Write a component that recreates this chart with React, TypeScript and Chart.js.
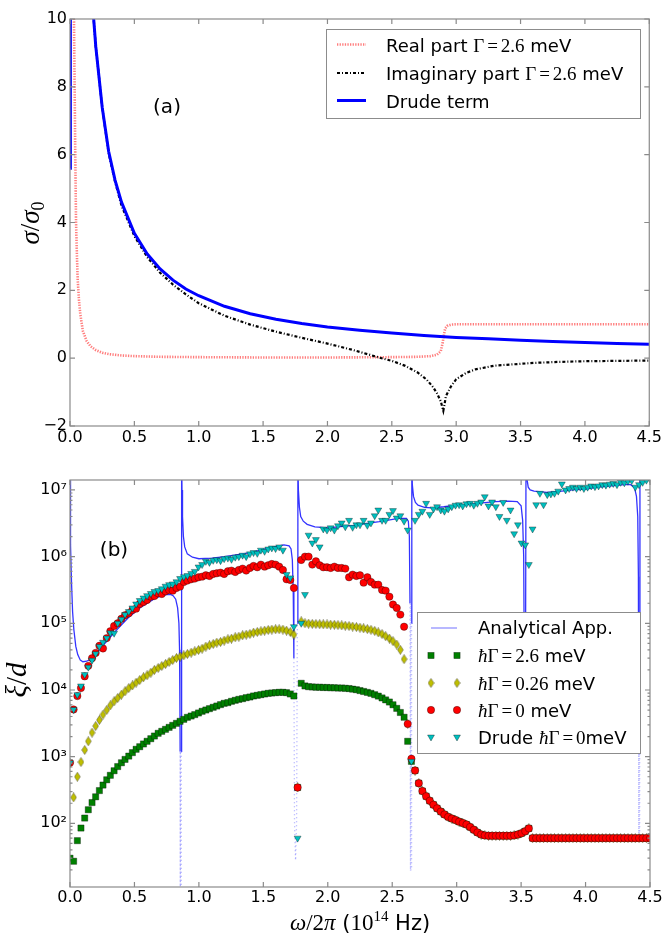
import React, { useEffect, useRef } from 'react';
import { Chart, registerables } from 'chart.js';

Chart.register(...registerables);

// ---------------- panel (a) data ----------------
const xTickValues = [0, 0.5, 1, 1.5, 2, 2.5, 3, 3.5, 4, 4.5];
const yTicksA = [-2, 0, 2, 4, 6, 8, 10];

const realFreq = [0.028, 0.031, 0.036, 0.041, 0.047, 0.054, 0.06, 0.07, 0.08, 0.1, 0.13, 0.16, 0.2, 0.25, 0.3, 0.4, 0.5, 0.7, 1.0, 1.5, 2.0, 2.5, 2.7, 2.8, 2.85, 2.88, 2.895, 2.905, 2.915, 2.93, 2.96, 3.0, 3.5, 4.0, 4.5];
const realPart = [12, 10, 8, 6, 4, 3, 2.3, 1.7, 1.3, 0.8, 0.5, 0.35, 0.24, 0.16, 0.12, 0.08, 0.06, 0.04, 0.03, 0.02, 0.02, 0.03, 0.04, 0.06, 0.1, 0.2, 0.45, 0.7, 0.88, 0.95, 0.99, 1, 1, 1, 1];

const imagFreq = [0.15, 0.18, 0.2, 0.25, 0.3, 0.35, 0.4, 0.5, 0.6, 0.7, 0.8, 0.9, 1.0, 1.2, 1.4, 1.6, 1.8, 2.0, 2.2, 2.4, 2.5, 2.6, 2.7, 2.77, 2.82, 2.85, 2.88, 2.9, 2.91, 2.92, 2.96, 3.0, 3.08, 3.15, 3.3, 3.6, 3.8, 4.0, 4.25, 4.5];
const imagPart = [12.3, 10.2, 9.2, 7.4, 6.05, 5.2, 4.5, 3.6, 2.98, 2.52, 2.17, 1.88, 1.62, 1.25, 0.99, 0.78, 0.6, 0.43, 0.24, 0.02, -0.08, -0.22, -0.42, -0.63, -0.85, -1.03, -1.27, -1.55, -1.35, -1.12, -0.83, -0.62, -0.43, -0.33, -0.22, -0.14, -0.11, -0.09, -0.08, -0.07];

const drudeFreq = [0.002, 0.003, 0.1, 0.15, 0.18, 0.2, 0.25, 0.3, 0.35, 0.4, 0.5, 0.6, 0.7, 0.8, 0.9, 1.0, 1.2, 1.4, 1.6, 1.8, 2.0, 2.25, 2.5, 2.75, 3.0, 3.25, 3.5, 3.75, 4.0, 4.25, 4.5];
const drudeTerm = [5.6, 14, null, 12.3, 10.2, 9.2, 7.4, 6.1, 5.25, 4.6, 3.68, 3.07, 2.63, 2.3, 2.04, 1.84, 1.53, 1.31, 1.15, 1.02, 0.92, 0.82, 0.74, 0.67, 0.61, 0.57, 0.53, 0.49, 0.46, 0.43, 0.41];

// ---------------- panel (b) data ----------------
const yTicksB = [1e2, 1e3, 1e4, 1e5, 1e6, 1e7];
const yTickLabelsB = ['10²', '10³', '10⁴', '10⁵', '10⁶', '10⁷'];

const freq = [0, 0.028, 0.057, 0.085, 0.114, 0.142, 0.171, 0.199, 0.228, 0.256, 0.285, 0.313, 0.342, 0.370, 0.399, 0.427, 0.456, 0.484, 0.513, 0.541, 0.570, 0.598, 0.627, 0.655, 0.684, 0.712, 0.741, 0.769, 0.797, 0.826, 0.854, 0.883, 0.911, 0.940, 0.968, 0.997, 1.025, 1.054, 1.082, 1.111, 1.139, 1.168, 1.196, 1.225, 1.253, 1.282, 1.310, 1.339, 1.367, 1.396, 1.424, 1.453, 1.481, 1.510, 1.538, 1.566, 1.595, 1.623, 1.652, 1.680, 1.709, 1.737, 1.766, 1.794, 1.823, 1.851, 1.880, 1.908, 1.937, 1.965, 1.994, 2.022, 2.051, 2.079, 2.108, 2.136, 2.165, 2.193, 2.222, 2.250, 2.278, 2.307, 2.335, 2.364, 2.392, 2.421, 2.449, 2.478, 2.506, 2.535, 2.563, 2.592, 2.620, 2.649, 2.677, 2.706, 2.734, 2.763, 2.791, 2.820, 2.848, 2.877, 2.905, 2.934, 2.962, 2.991, 3.019, 3.047, 3.076, 3.104, 3.133, 3.161, 3.190, 3.218, 3.247, 3.275, 3.304, 3.332, 3.361, 3.389, 3.418, 3.446, 3.475, 3.503, 3.532, 3.560, 3.589, 3.617, 3.646, 3.674, 3.703, 3.731, 3.759, 3.788, 3.816, 3.845, 3.873, 3.902, 3.930, 3.959, 3.987, 4.016, 4.044, 4.073, 4.101, 4.130, 4.158, 4.187, 4.215, 4.244, 4.272, 4.301, 4.329, 4.358, 4.386, 4.415, 4.443, 4.472, 4.500];

// band 1 (0 .. 1.74)
const xi26Band1 = [30, 27, 55, 85, 120, 160, 205, 250, 310, 375, 450, 525, 615, 710, 810, 910, 1020, 1150, 1290, 1410, 1550, 1700, 1860, 2040, 2240, 2400, 2570, 2750, 2950, 3160, 3390, 3630, 3890, 4070, 4270, 4520, 4790, 5010, 5250, 5500, 5750, 6030, 6310, 6460, 6760, 7000, 7240, 7410, 7670, 7850, 8130, 8320, 8510, 8710, 8910, 9020, 9120, 9230, 9230, 9120, 8710, 8130];
const xi026Band1 = [800, 245, 500, 830, 1260, 1700, 2290, 2880, 3550, 4270, 5010, 5890, 6760, 7590, 8510, 9550, 10700, 11700, 12900, 14100, 15500, 16600, 18200, 20000, 21400, 22900, 24500, 26300, 28200, 30200, 31600, 33100, 34700, 36300, 38000, 39800, 41700, 44700, 46800, 49000, 51300, 52500, 55000, 57500, 58900, 61700, 63100, 66100, 67600, 69200, 72400, 74100, 75900, 77600, 79400, 80400, 81300, 81300, 80400, 77600, 74100, 67600];
const xi0Band1 = [810, 5100, 8100, 10700, 16000, 23000, 30000, 36000, 46000, 42000, 60000, 76000, 91000, 100000, 117000, 132000, 141000, 158000, 166000, 195000, 209000, 224000, 251000, 257000, 282000, 275000, 302000, 316000, 309000, 339000, 355000, 417000, 437000, 457000, 468000, 490000, 501000, 525000, 513000, 550000, 562000, 575000, 550000, 603000, 617000, 589000, 631000, 661000, 617000, 676000, 724000, 692000, 759000, 708000, 741000, 776000, 759000, 708000, 631000, 457000, 447000, 339000];
const xiDrudeBand1 = [810, 5100, 8500, 11500, 17000, 22000, 28000, 35000, 45000, 52000, 60000, 72000, 71000, 100000, 115000, 135000, 150000, 170000, 195000, 220000, 240000, 260000, 280000, 300000, 310000, 330000, 360000, 380000, 390000, 420000, 470000, 500000, 520000, 560000, 600000, 700000, 760000, 850000, 820000, 880000, 900000, 870000, 930000, 950000, 910000, 980000, 1000000, 1050000, 1000000, 1100000, 1150000, 1120000, 1250000, 1200000, 1300000, 1350000, 1320000, 1400000, 1250000, 540000, 480000, 89000];

// band 2 (1.77 .. 2.65), first value = point at the band edge
const xi26Band2 = [345, 12600, 11500, 11200, 11100, 11000, 11000, 10900, 10900, 10800, 10800, 10700, 10700, 10600, 10500, 10300, 10100, 9800, 9500, 9200, 8900, 8500, 8100, 7600, 7100, 6600, 6000, 5300, 4600, 3900, 1700, 850];
const xi026Band2 = [345, 107000, 100000, 98900, 98000, 97500, 97000, 96500, 96000, 95500, 95000, 94000, 93000, 92000, 91000, 89500, 88000, 86000, 84000, 82000, 80000, 77000, 73000, 69000, 64000, 59000, 54000, 48000, 40000, 29000, 3100, 900];
const xi0Band2 = [345, 891000, 1000000, 1000000, 759000, 851000, 741000, 692000, 692000, 676000, 708000, 676000, 676000, 661000, 490000, 537000, 513000, 525000, 407000, 490000, 417000, 380000, 380000, 316000, 309000, 251000, 191000, 170000, 135000, 89000, 3100, 930];
const xiDrudeBand2 = [60, 100000, 270000, 2100000, 1600000, 1800000, 1400000, 2600000, 2500000, 2700000, 2500000, 2900000, 3200000, 2800000, 3500000, 2750000, 3000000, 3000000, 3500000, 2950000, 3200000, 4100000, 5000000, 3500000, 3500000, 4300000, 4900000, 3800000, 4100000, 3400000, 2500000, 850];

// above 2.65
const xiDampedTail = [620, 400, 305, 255, 218, 190, 168, 150, 136, 125, 118, 112, 106, 101, 96, 88, 80, 73, 68, 66, 65, 65, 65, 65, 65, 65, 65, 66, 68, 71, 76, 84, 60, 60, 60, 60, 60, 60, 60, 60, 60, 60, 60, 60, 60, 60, 60, 60, 60, 60, 60, 60, 60, 60, 60, 60, 60, 60, 60, 60, 60, 60, 60, 60, 60];
const xiDrudeTail = [3.5e6, 4.3e6, 4.8e6, 6.3e6, 4.3e6, 5.2e6, 5.6e6, 5.0e6, 4.8e6, 5.2e6, 5.6e6, 5.9e6, 6.0e6, 5.75e6, 6.2e6, 6.3e6, 5.9e6, 6.3e6, 6.6e6, 7.9e6, 5.75e6, 6.6e6, 5.6e6, 4.0e6, 6.5e6, 3.5e6, 5.0e6, 2.2e6, 3.0e6, 1.6e6, 1.5e6, 7.6e5, 2.6e6, 6.0e6, 8.9e6, 6.0e6, 8.5e6, 8.7e6, 8.9e6, 9.6e6, 1.23e7, 1.0e7, 1.05e7, 1.1e7, 1.05e7, 1.1e7, 1.05e7, 1.1e7, 1.15e7, 1.12e7, 1.15e7, 1.2e7, 1.18e7, 1.22e7, 1.25e7, 1.2e7, 1.3e7, 1.28e7, 1.35e7, 1.38e7, 1.1e7, 1.2e7, 1.3e7, 1.4e7, 1.45e7];

const xiGamma26 = [...xi26Band1, ...xi26Band2, ...xiDampedTail];
const xiGamma026 = [...xi026Band1, ...xi026Band2, ...xiDampedTail];
const xiGamma0 = [...xi0Band1, ...xi0Band2, ...xiDampedTail];
const xiDrude = [...xiDrudeBand1, ...xiDrudeBand2, ...xiDrudeTail];

const anaFreq = [0, 0.002, 0.006, 0.012, 0.02, 0.03, 0.045, 0.06, 0.08, 0.1, 0.13, 0.16, 0.2, 0.25, 0.3, 0.35, 0.4, 0.45, 0.5, 0.55, 0.6, 0.65, 0.7, 0.75, 0.78, 0.8, 0.82, 0.835, 0.845, 0.85, 0.853, 0.8545, 0.856, 0.862, 0.8635, 0.866, 0.869, 0.873, 0.88, 0.89, 0.91, 0.95, 1.0, 1.1, 1.2, 1.3, 1.4, 1.5, 1.6, 1.66, 1.7, 1.715, 1.725, 1.732, 1.737, 1.742, 1.75, 1.758, 1.764, 1.768, 1.772, 1.78, 1.79, 1.81, 1.84, 1.9, 2.0, 2.2, 2.4, 2.55, 2.61, 2.625, 2.633, 2.638, 2.642, 2.648, 2.65, 2.652, 2.656, 2.665, 2.68, 2.7, 2.75, 2.8, 2.9, 3.0, 3.1, 3.2, 3.3, 3.4, 3.47, 3.5, 3.512, 3.52, 3.523, 3.526, 3.532, 3.535, 3.538, 3.545, 3.555, 3.57, 3.6, 3.7, 3.8, 3.9, 4.0, 4.1, 4.2, 4.3, 4.35, 4.38, 4.395, 4.405, 4.41, 4.412, 4.414, 4.418, 4.42, 4.422, 4.5];
const anaXi = [3e7, 8e6, 1.5e6, 4e5, 1.5e5, 8e4, 4.5e4, 3.4e4, 2.8e4, 2.65e4, 2.7e4, 2.9e4, 3.5e4, 4.5e4, 5.8e4, 7.5e4, 9.5e4, 1.2e5, 1.45e5, 1.75e5, 2e5, 2.3e5, 2.55e5, 2.7e5, 2.72e5, 2.6e5, 2.3e5, 1.7e5, 1e5, 4e4, 5e3, 1.2e3, 8, 8, 1.2e3, 3e7, 1e7, 4e6, 2e6, 1.4e6, 1.1e6, 9.8e5, 9.3e5, 9.5e5, 1e6, 1.07e6, 1.15e6, 1.28e6, 1.42e6, 1.5e6, 1.45e6, 1.3e6, 9e5, 3e5, 3e4, 100, 28, 100, 1e5, 3e7, 1e7, 5.5e6, 4e6, 3.4e6, 3.05e6, 2.8e6, 2.7e6, 2.95e6, 3.35e6, 3.75e6, 3.75e6, 3.4e6, 2e6, 2e5, 20, 20, 1e5, 3e7, 1.2e7, 8e6, 6.5e6, 5.9e6, 5.5e6, 5.4e6, 5.6e6, 5.9e6, 6.1e6, 6.4e6, 6.7e6, 6.8e6, 6.7e6, 5.8e6, 3.5e6, 1e6, 1e5, 2e3, 2e3, 1e5, 3e7, 1.5e7, 1.1e7, 1e7, 9.6e6, 9.2e6, 9.5e6, 1e7, 1.03e7, 1.1e7, 1.15e7, 1.2e7, 1.2e7, 1.08e7, 8e6, 4e6, 5e5, 1.2e3, 60, 60, 1.2e3, 3e7, 3e7];

// ---------------- styling helpers ----------------
const SANS = '"DejaVu Sans", sans-serif';
const MATH = '"Liberation Serif", serif';
const C_GREEN = '#008000';
const C_YELLOW = '#bfbf00';
const C_RED = '#ff0000';
const C_CYAN = '#00bfbf';
const EDGE = 'rgba(0,0,0,0.55)';

type Part = { t: string; f: string; dy?: number; gap?: number };
function richWidth(ctx: CanvasRenderingContext2D, parts: Part[]) {
  let w = 0;
  for (const p of parts) { ctx.font = p.f; w += ctx.measureText(p.t).width + (p.gap || 0); }
  return w;
}
function drawRich(ctx: CanvasRenderingContext2D, parts: Part[], x: number, y: number) {
  let cx = x;
  for (const p of parts) {
    ctx.font = p.f;
    ctx.fillText(p.t, cx, y + (p.dy || 0));
    cx += ctx.measureText(p.t).width + (p.gap || 0);
  }
}
function eq(lhs: Part[], rhs: string, size: number): Part[] {
  const m = `${size}px ${MATH}`;
  return [...lhs, { t: '=', f: m, gap: 3 }, { t: rhs, f: m }];
}

function makeDiamond(): HTMLCanvasElement {
  const c = document.createElement('canvas');
  c.width = 7; c.height = 10;
  const g = c.getContext('2d')!;
  g.beginPath();
  g.moveTo(3.5, 0.4); g.lineTo(6.4, 5); g.lineTo(3.5, 9.6); g.lineTo(0.6, 5); g.closePath();
  g.fillStyle = C_YELLOW; g.fill();
  g.strokeStyle = EDGE; g.lineWidth = 0.6; g.stroke();
  return c;
}

function framePlugin(minorLog: boolean) {
  return {
    id: 'frame',
    afterDatasetsDraw(chart: any) {
      const { ctx, chartArea: a, scales } = chart;
      ctx.save();
      ctx.strokeStyle = '#8a8a8a';
      ctx.lineWidth = 1.2;
      ctx.strokeRect(a.left, a.top, a.right - a.left, a.bottom - a.top);
      ctx.beginPath();
      for (const v of xTickValues) {
        const px = scales.x.getPixelForValue(v);
        ctx.moveTo(px, a.bottom); ctx.lineTo(px, a.bottom - 5);
        ctx.moveTo(px, a.top); ctx.lineTo(px, a.top + 5);
      }
      const yt = minorLog ? yTicksB : yTicksA;
      for (const v of yt) {
        const py = scales.y.getPixelForValue(v);
        ctx.moveTo(a.left, py); ctx.lineTo(a.left + 5, py);
        ctx.moveTo(a.right, py); ctx.lineTo(a.right - 5, py);
      }
      if (minorLog) {
        for (let d = 10; d <= 1e7; d *= 10) {
          for (let m = 2; m <= 9; m++) {
            const v = m * d;
            if (v < scales.y.min || v > scales.y.max) continue;
            const py = scales.y.getPixelForValue(v);
            ctx.moveTo(a.left, py); ctx.lineTo(a.left + 2.5, py);
            ctx.moveTo(a.right, py); ctx.lineTo(a.right - 2.5, py);
          }
        }
      }
      ctx.stroke();
      ctx.restore();
    },
  };
}

const tickFont = { family: 'DejaVu Sans', size: 16 };

export default function App() {
  const refA = useRef<HTMLCanvasElement>(null);
  const refB = useRef<HTMLCanvasElement>(null);

  useEffect(() => {
    const charts: Chart[] = [];
    const diamond = makeDiamond();

    // ---------- panel (a) ----------
    const legendA = {
      id: 'legendA',
      afterDraw(chart: any) {
        const ctx: CanvasRenderingContext2D = chart.ctx;
        ctx.save();
        ctx.fillStyle = '#000';
        ctx.textBaseline = 'middle';
        ctx.textAlign = 'center';
        ctx.font = `20px ${SANS}`;
        ctx.fillText('(a)', 167, 108);
        ctx.textAlign = 'left';
        ctx.textBaseline = 'alphabetic';
        ctx.save();
        ctx.translate(39, 223);
        ctx.rotate(-Math.PI / 2);
        const yt: Part[] = [
          { t: 'σ', f: `italic 27px ${MATH}` },
          { t: '/', f: `27px ${MATH}` },
          { t: 'σ', f: `italic 27px ${MATH}` },
          { t: '0', f: `18px ${MATH}`, dy: 5 },
        ];
        drawRich(ctx, yt, -richWidth(ctx, yt) / 2, 0);
        ctx.restore();
        ctx.fillStyle = '#fff';
        ctx.fillRect(326.5, 29.5, 314, 89);
        ctx.strokeStyle = '#8c8c8c';
        ctx.lineWidth = 1;
        ctx.strokeRect(326.5, 29.5, 314, 89);
        const S = `18px ${SANS}`;
        const G: Part[] = [{ t: 'Γ', f: `19px ${MATH}`, gap: 3 }];
        const rows: { y: number; color: string; dash: number[]; w: number; parts: Part[] }[] = [
          { y: 44.5, color: 'rgba(255,70,70,0.7)', dash: [1.3, 1.3], w: 2.6, parts: [{ t: 'Real part ', f: S }, ...eq(G, '2.6', 19), { t: ' meV', f: S }] },
          { y: 73, color: '#000', dash: [3, 2, 1, 2], w: 2.2, parts: [{ t: 'Imaginary part ', f: S }, ...eq(G, '2.6', 19), { t: ' meV', f: S }] },
          { y: 100.5, color: '#0000ff', dash: [], w: 3, parts: [{ t: 'Drude term', f: S }] },
        ];
        for (const r of rows) {
          ctx.beginPath();
          ctx.setLineDash(r.dash);
          ctx.strokeStyle = r.color;
          ctx.lineWidth = r.w;
          ctx.moveTo(337, r.y); ctx.lineTo(366, r.y);
          ctx.stroke();
          ctx.setLineDash([]);
          ctx.fillStyle = '#000';
          drawRich(ctx, r.parts, 386, r.y + 7);
        }
        ctx.restore();
      },
    };

    const chartA = new Chart(refA.current!, {
      type: 'scatter',
      data: {
        datasets: [
          {
            label: 'Real part',
            data: realFreq.map((x, i) => ({ x, y: realPart[i] })),
            showLine: true, pointRadius: 0, borderColor: 'rgba(255,70,70,0.7)', borderWidth: 2.6,
            borderDash: [1.3, 1.3], clip: 0, order: 3,
          } as any,
          {
            label: 'Imaginary part',
            data: imagFreq.map((x, i) => ({ x, y: imagPart[i] })),
            showLine: true, pointRadius: 0, borderColor: '#000', borderWidth: 2.2,
            borderDash: [3, 2, 1, 2], clip: 0, order: 2,
          },
          {
            label: 'Drude term',
            data: drudeFreq.map((x, i) => ({ x, y: drudeTerm[i] })),
            showLine: true, pointRadius: 0, borderColor: '#0000ff', borderWidth: 3,
            clip: 0, order: 1, spanGaps: false,
          },
        ],
      },
      options: {
        animation: false, responsive: false, devicePixelRatio: 1, events: [],
        layout: { padding: { top: 19, right: 14, left: 0, bottom: 0 } },
        plugins: { legend: { display: false }, tooltip: { enabled: false } },
        scales: {
          x: {
            type: 'linear', min: 0, max: 4.5,
            ticks: { stepSize: 0.5, font: tickFont, color: '#000', padding: 2, maxRotation: 0, autoSkip: false, callback: (v: any) => Number(v).toFixed(1) },
            grid: { display: false, drawTicks: false }, border: { display: false },
            afterFit: (s: any) => { s.height = 24; },
          },
          y: {
            type: 'linear', min: -2, max: 10,
            ticks: { stepSize: 2, font: tickFont, color: '#000', padding: 3, autoSkip: false, callback: (v: any) => (v < 0 ? '−' + Math.abs(v) : String(v)) },
            grid: { display: false, drawTicks: false }, border: { display: false },
            afterFit: (s: any) => { s.width = 70; },
          },
        },
      } as any,
      plugins: [framePlugin(false), legendA],
    });
    charts.push(chartA);

    // ---------- panel (b) ----------
    const drawSquare = (ctx: CanvasRenderingContext2D, x: number, y: number) => {
      ctx.fillStyle = C_GREEN; ctx.strokeStyle = EDGE; ctx.lineWidth = 0.6;
      ctx.fillRect(x - 3.1, y - 3.1, 6.2, 6.2); ctx.strokeRect(x - 3.1, y - 3.1, 6.2, 6.2);
    };
    const drawCircle = (ctx: CanvasRenderingContext2D, x: number, y: number) => {
      ctx.beginPath(); ctx.arc(x, y, 3.7, 0, Math.PI * 2);
      ctx.fillStyle = C_RED; ctx.fill(); ctx.strokeStyle = EDGE; ctx.lineWidth = 0.6; ctx.stroke();
    };
    const drawTri = (ctx: CanvasRenderingContext2D, x: number, y: number) => {
      ctx.beginPath(); ctx.moveTo(x - 3.46, y - 2); ctx.lineTo(x + 3.46, y - 2); ctx.lineTo(x, y + 4); ctx.closePath();
      ctx.fillStyle = C_CYAN; ctx.fill(); ctx.strokeStyle = EDGE; ctx.lineWidth = 0.6; ctx.stroke();
    };
    const drawDia = (ctx: CanvasRenderingContext2D, x: number, y: number) => {
      ctx.drawImage(diamond, x - 3.5, y - 5);
    };

    const legendB = {
      id: 'legendB',
      afterDraw(chart: any) {
        const ctx: CanvasRenderingContext2D = chart.ctx;
        ctx.save();
        ctx.fillStyle = '#000';
        ctx.textBaseline = 'middle';
        ctx.textAlign = 'center';
        ctx.font = `20px ${SANS}`;
        ctx.fillText('(b)', 114, 101);
        ctx.textAlign = 'left';
        ctx.textBaseline = 'alphabetic';
        ctx.save();
        ctx.translate(26, 230);
        ctx.rotate(-Math.PI / 2);
        const yt: Part[] = [
          { t: 'ξ', f: `italic 29px ${MATH}` },
          { t: '/', f: `29px ${MATH}` },
          { t: 'd', f: `italic 29px ${MATH}` },
        ];
        drawRich(ctx, yt, -richWidth(ctx, yt) / 2, 0);
        ctx.restore();
        const xt: Part[] = [
          { t: 'ω', f: `italic 23px ${MATH}` },
          { t: '/2', f: `23px ${MATH}` },
          { t: 'π', f: `italic 23px ${MATH}` },
          { t: ' (', f: `21px ${SANS}` },
          { t: '10', f: `23px ${MATH}` },
          { t: '14', f: `15px ${MATH}`, dy: -9 },
          { t: ' Hz)', f: `21px ${SANS}` },
        ];
        drawRich(ctx, xt, 360 - richWidth(ctx, xt) / 2, 480);
        ctx.fillStyle = '#fff';
        ctx.fillRect(417.5, 162.5, 223, 141);
        ctx.strokeStyle = '#8c8c8c';
        ctx.lineWidth = 1;
        ctx.strokeRect(417.5, 162.5, 223, 141);
        const S = `18px ${SANS}`;
        const H: Part[] = [{ t: 'ħ', f: `italic 19px ${MATH}` }, { t: 'Γ', f: `19px ${MATH}`, gap: 3 }];
        ctx.beginPath();
        ctx.strokeStyle = 'rgba(60,60,255,0.6)'; ctx.lineWidth = 1.2;
        ctx.moveTo(431, 178); ctx.lineTo(457, 178); ctx.stroke();
        ctx.fillStyle = '#000';
        drawRich(ctx, [{ t: 'Analytical App.', f: S }], 478, 184);
        const rows: { y: number; mk: (c: CanvasRenderingContext2D, x: number, y: number) => void; parts: Part[] }[] = [
          { y: 205.5, mk: drawSquare, parts: [...eq(H, '2.6', 19), { t: ' meV', f: S }] },
          { y: 233, mk: drawDia, parts: [...eq(H, '0.26', 19), { t: ' meV', f: S }] },
          { y: 260, mk: drawCircle, parts: [...eq(H, '0', 19), { t: ' meV', f: S }] },
          { y: 287, mk: drawTri, parts: [{ t: 'Drude ', f: S }, ...eq(H, '0', 19), { t: 'meV', f: S }] },
        ];
        for (const r of rows) {
          r.mk(ctx, 431, r.y);
          r.mk(ctx, 457, r.y);
          ctx.fillStyle = '#000';
          drawRich(ctx, r.parts, 478, r.y + 6.5);
        }
        ctx.restore();
      },
    };

    const pts = (ys: number[]) => freq.map((x, i) => ({ x, y: ys[i] }));
    const deep = (c: any) => Math.min(c.p0.parsed.y, c.p1.parsed.y) < 1000;

    const chartB = new Chart(refB.current!, {
      type: 'scatter',
      data: {
        datasets: [
          {
            label: 'Analytical App.',
            data: anaFreq.map((x, i) => ({ x, y: anaXi[i] })),
            showLine: true, pointRadius: 0, borderColor: 'rgba(0,0,255,0.8)', borderWidth: 1.3,
            segment: {
              borderColor: (c: any) => (deep(c) ? 'rgba(70,70,255,0.45)' : undefined),
              borderDash: (c: any) => (deep(c) ? [1, 3] : undefined),
            },
            clip: 0, order: 10,
          } as any,
          {
            label: 'ħΓ=2.6 meV', data: pts(xiGamma26), showLine: false,
            pointStyle: 'rect', pointRadius: 4.4, backgroundColor: C_GREEN, borderColor: EDGE, borderWidth: 0.6,
            clip: 0, order: 4,
          },
          {
            label: 'ħΓ=0.26 meV', data: pts(xiGamma026), showLine: false,
            pointStyle: diamond, pointRadius: 4, backgroundColor: C_YELLOW, borderColor: EDGE, borderWidth: 0.6,
            clip: 0, order: 3,
          },
          {
            label: 'ħΓ=0 meV', data: pts(xiGamma0), showLine: false,
            pointStyle: 'circle', pointRadius: 3.7, backgroundColor: C_RED, borderColor: EDGE, borderWidth: 0.6,
            clip: 0, order: 2,
          },
          {
            label: 'Drude ħΓ=0meV', data: pts(xiDrude), showLine: false,
            pointStyle: 'triangle', pointRotation: 180, pointRadius: 4, backgroundColor: C_CYAN, borderColor: EDGE, borderWidth: 0.6,
            clip: 0, order: 1,
          },
        ],
      },
      options: {
        animation: false, responsive: false, devicePixelRatio: 1, events: [],
        layout: { padding: { top: 30, right: 14, left: 0, bottom: 0 } },
        plugins: { legend: { display: false }, tooltip: { enabled: false } },
        scales: {
          x: {
            type: 'linear', min: 0, max: 4.5,
            ticks: { stepSize: 0.5, font: tickFont, color: '#000', padding: 1, maxRotation: 0, autoSkip: false, callback: (v: any) => Number(v).toFixed(1) },
            grid: { display: false, drawTicks: false }, border: { display: false },
            afterFit: (s: any) => { s.height = 50; },
          },
          y: {
            type: 'logarithmic', min: 11.1, max: 1.41e7,
            afterBuildTicks: (s: any) => { s.ticks = yTicksB.map((v) => ({ value: v })); },
            ticks: { font: tickFont, color: '#000', padding: 3, autoSkip: false, callback: (v: any) => yTickLabelsB[yTicksB.indexOf(Number(v))] ?? '' },
            grid: { display: false, drawTicks: false }, border: { display: false },
            afterFit: (s: any) => { s.width = 70; },
          },
        },
      } as any,
      plugins: [framePlugin(true), legendB],
    });
    charts.push(chartB);

    return () => charts.forEach((c) => c.destroy());
  }, []);

  return (
    <div style={{ position: 'absolute', left: 0, top: 0, width: 664, height: 937, background: '#fff' }}>
      <canvas ref={refA} width={664} height={450} style={{ position: 'absolute', left: 0, top: 0, width: 664, height: 450 }} />
      <canvas ref={refB} width={664} height={487} style={{ position: 'absolute', left: 0, top: 450, width: 664, height: 487 }} />
    </div>
  );
}
